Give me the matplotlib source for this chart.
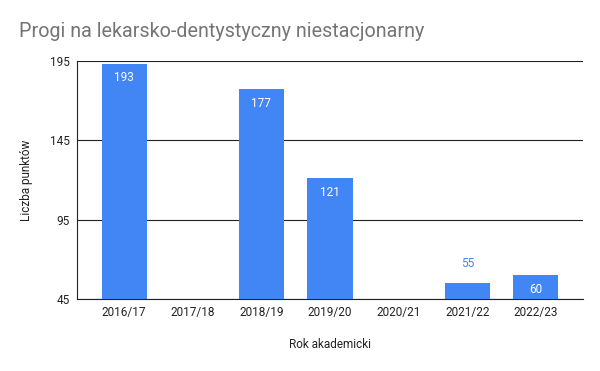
import matplotlib
matplotlib.use("Agg")
import matplotlib.pyplot as plt
import numpy as np

categories = ["2016/17", "2017/18", "2018/19", "2019/20", "2020/21", "2021/22", "2022/23"]
values = [193, None, 177, 121, None, 55, 60]
yticks = [45, 95, 145, 195]

plt.rcParams['font.family'] = ['Roboto', 'DejaVu Sans']

fig = plt.figure(figsize=(6, 3.71), dpi=100)
ax = fig.add_axes([0.128, 0.194, 0.844, 0.642])

x = np.arange(len(categories))
bar_color = "#4285F4"
for i, v in enumerate(values):
    if v is None:
        continue
    ax.bar(x[i], v - 45, bottom=45, width=0.66, color=bar_color, zorder=3)
    if v - 45 > 12:
        ax.annotate(str(v), (x[i], v), xytext=(0, -10), textcoords="offset points",
                    ha="center", va="center", color="white", fontsize=8.5, zorder=4)
    else:
        ax.annotate(str(v), (x[i], v), xytext=(0, 14), textcoords="offset points",
                    ha="center", va="center", color=bar_color, fontsize=8.5, zorder=4)

ax.set_xlim(-0.69, 6.69)
ax.set_ylim(45, 195)
ax.set_yticks(yticks)
ax.set_xticks(x)
ax.set_xticklabels(categories)
ax.yaxis.grid(True, color="#222222", linewidth=0.8, zorder=0)
ax.tick_params(axis="both", length=0, labelsize=8.5, colors="#222222", pad=5)
for s in ["top", "right"]:
    ax.spines[s].set_visible(False)
ax.spines["left"].set_color("#222222")
ax.spines["bottom"].set_color("#222222")
ax.spines["left"].set_linewidth(0.8)
ax.spines["bottom"].set_linewidth(0.8)

ax.set_xlabel("Rok akademicki", fontsize=8.5, color="#222222", labelpad=14)
ax.set_ylabel("Liczba punktów", fontsize=8.5, color="#222222", labelpad=12)
fig.text(0.032, 0.915, "Progi na lekarsko-dentystyczny niestacjonarny", fontsize=14.2,
         color="#757575", ha="left", va="center")

fig.savefig("out.png", dpi=100)
